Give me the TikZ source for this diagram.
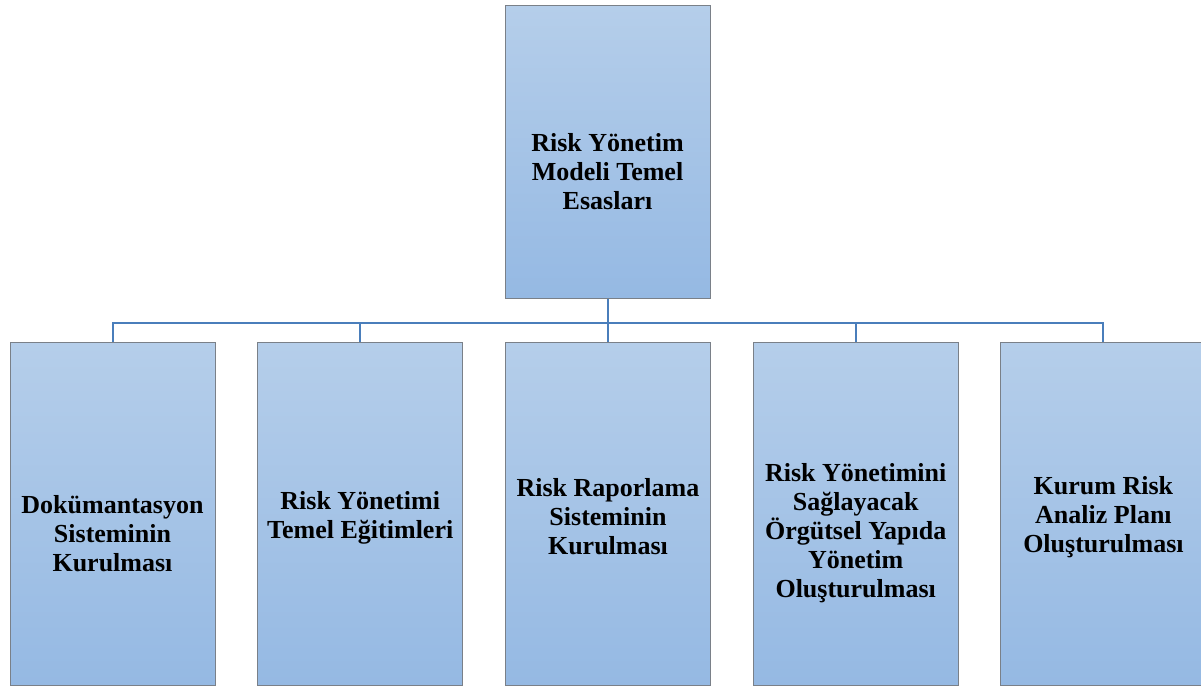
\documentclass[tikz,border=0pt]{standalone}
\usepackage{fontspec}
\setmainfont{Liberation Serif}
\usepackage{tikz}
\usetikzlibrary{positioning}

\definecolor{boxtop}{HTML}{B5CEEA}
\definecolor{boxbot}{HTML}{95B9E3}
\definecolor{boxline}{HTML}{7A8088}
\definecolor{linkblue}{HTML}{4A7EBB}

\begin{document}
\begin{tikzpicture}[x=0.75pt, y=-0.75pt, node distance = 31.3pt]

\tikzstyle{field} = [rectangle, draw=boxline, line width=0.75pt, top color=boxtop, bottom color=boxbot, minimum width=153.75pt, inner sep=0pt]
\tikzstyle{head} = [field, minimum height=219.75pt]
\tikzstyle{leaf} = [field, minimum height=257.25pt]
\tikzstyle{txt} = [align=center, font=\bfseries\fontsize{19.5}{21.75}\selectfont]
\tikzstyle{link} = [draw=linkblue, line width=1.5pt]

\useasboundingbox (0,0) rectangle (1201,686);

% base
\node (base)[head, label={[txt, yshift=-15pt]center:Risk Yönetim\\Modeli Temel\\Esasları}] at (607.5,151.5) {};

% lvl 1
\node (doc)[leaf, label={[txt, yshift=-15pt]center:Dokümantasyon\\Sisteminin\\Kurulması}] at (112.5,513.5) {};
\node (edu)[leaf, right = of doc, label={[txt, yshift=-3pt]center:Risk Yönetimi\\Temel Eğitimleri}] {};
\node (report)[leaf, right = of edu, label={[txt, yshift=-2pt]center:Risk Raporlama\\Sisteminin\\Kurulması}] {};
\node (org)[leaf, right = of report, label={[txt, yshift=-15pt]center:Risk Yönetimini\\Sağlayacak\\Örgütsel Yapıda\\Yönetim\\Oluşturulması}] {};
\node (plan)[leaf, right = of org, label={[txt, yshift=-3pt]center:Kurum Risk\\Analiz Planı\\Oluşturulması}] {};

% links
\coordinate [below = 18pt of base.south] (bar);
\draw[link] (base.south) -- (bar);
\foreach \leaf in {doc, edu, report, org, plan}
    \draw[link] (bar) -| (\leaf.north);

\end{tikzpicture}
\end{document}
